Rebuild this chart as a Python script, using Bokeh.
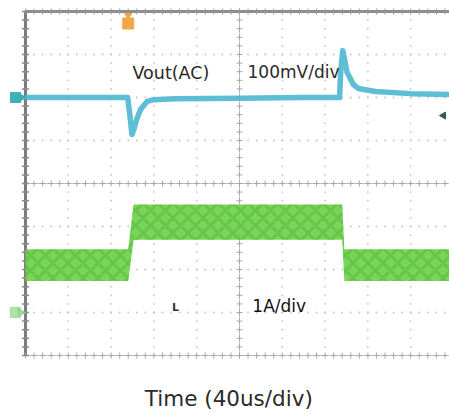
import numpy as np
from bokeh.plotting import figure
from bokeh.models import Range1d
from bokeh.core.properties import value
from bokeh.embed import file_html
from bokeh.resources import INLINE

# ---------------- data (read from the scope shot) ----------------
# Output voltage, AC coupled (time in us, deviation in mV)
vout_t_us = [0, 95.5, 97.5, 99.5, 101.5, 104, 107.5, 113.7, 120, 140, 200, 260,
             293.5, 294.6, 296.5, 300.6, 306.5, 311, 327, 360, 396]
vout_mv = [0, 0, -40, -86, -72, -50, -28, -9, -5, -3, -2, 0,
           0, 60, 109, 58, 30, 21, 14, 9, 7]
# Inductor current (centre of ripple band, A) and ripple peak-to-peak (A)
il_t_us = [0, 96, 101, 296, 298, 400]
il_a = [1.1, 1.1, 2.1, 2.1, 1.1, 1.1]
il_ripple_pp = [0.74, 0.74, 0.82, 0.82, 0.74, 0.74]

# scope settings
US_PER_DIV = 40.0
MV_PER_DIV = 100.0
A_PER_DIV = 1.0
VOUT_OFFSET_DIV = 2.0
IL_OFFSET_DIV = -3.0
TRIGGER_US = 96.0
TRIG_LEVEL_DIV = 1.58

labels = ["Vout(AC)", "100mV/div", "1A/div", "Time (40us/div)"]

# ---------------- geometry ----------------
PX_X = 42.8 / US_PER_DIV   # px per us
PX_Y = 43.0                # px per div
W, H = 449, 416
GRID_LEFT_PX = 25          # frame px of t=0
GRID_MID_PX = 183          # frame px (from top) of y=0
x0 = -GRID_LEFT_PX / PX_X
x1 = (W - GRID_LEFT_PX) / PX_X
y1 = GRID_MID_PX / PX_Y
y0 = -(H - GRID_MID_PX) / PX_Y

p = figure(width=W, height=H, x_range=Range1d(x0, x1), y_range=Range1d(y0, y1),
           output_backend="svg", toolbar_location=None, min_border=0,
           x_axis_location=None, y_axis_location=None)
p.grid.visible = False
p.outline_line_color = None
p.background_fill_color = "white"
p.border_fill_color = "white"

NX, NY = 10, 4
xmaj = [i * US_PER_DIV for i in range(NX + 1)]
ymaj = list(range(-NY, NY + 1))
xmin = np.arange(0, NX * 5 + 1) * US_PER_DIV / 5
ymin = np.arange(-NY * 5, NY * 5 + 1) / 5.0

# interior dotted grid
dx, dy = [], []
for xv in xmaj[1:-1]:
    if xv == NX / 2 * US_PER_DIV:
        continue
    for yv in ymin:
        dx.append(xv); dy.append(yv)
for yv in ymaj[1:-1]:
    if yv == 0:
        continue
    for xv in xmin:
        dx.append(xv); dy.append(yv)
p.scatter(dx, dy, marker="circle", size=1.8, color="#c4c4c4", line_color=None)

# centre cross with ticks
cx = NX / 2 * US_PER_DIV
p.line([0, NX * US_PER_DIV], [0, 0], line_color="#c8c8c8", line_width=1)
p.line([cx, cx], [-NY, NY], line_color="#c8c8c8", line_width=1)
p.scatter(list(xmin), [0] * len(xmin), marker="cross", size=6, line_color="#a8a8a8", line_width=1)
p.scatter([cx] * len(ymin), list(ymin), marker="cross", size=6, line_color="#a8a8a8", line_width=1)

# border
p.line([0, NX * US_PER_DIV], [NY, NY], line_color="#8e8e8e", line_width=3)
p.line([0, 0], [-NY, NY], line_color="#7c7c7c", line_width=3)
p.line([0, NX * US_PER_DIV], [-NY, -NY], line_color="#c0c0c0", line_width=1)
p.scatter(list(xmin), [-NY] * len(xmin), marker="cross", size=6, line_color="#a8a8a8")
p.scatter(list(xmin), [NY] * len(xmin), marker="dash", size=6, angle=np.pi / 2, line_color="#9a9a9a")
p.scatter([0] * len(ymin), list(ymin), marker="dash", size=7, line_color="#8a8a8a", line_width=1.5)

# inductor current band
il_c = np.array(il_a) / A_PER_DIV + IL_OFFSET_DIV
half = np.array(il_ripple_pp) / 2 / A_PER_DIV
p.varea(x=il_t_us, y1=list(il_c - half), y2=list(il_c + half),
        fill_color="#72d24e", fill_alpha=0.95,
        hatch_pattern="diagonal_cross", hatch_color="#46b236", hatch_scale=15,
        hatch_weight=3, hatch_alpha=0.4)

# output voltage trace
vy = np.array(vout_mv) / MV_PER_DIV + VOUT_OFFSET_DIV
p.line(vout_t_us, list(vy), line_color="#4cb7d0", line_width=5.5, line_alpha=0.9,
       line_join="round")

# channel / trigger markers
mx = -10 / PX_X
p.scatter([mx], [VOUT_OFFSET_DIV], marker="square", size=10, color="#3fb0b8")
p.scatter([mx + 5 / PX_X], [VOUT_OFFSET_DIV], marker="triangle", angle=-np.pi / 2,
          size=10, color="#3fb0b8")
p.scatter([mx], [IL_OFFSET_DIV], marker="square", size=10, color="#8fd68a", alpha=0.7)
p.scatter([mx + 5 / PX_X], [IL_OFFSET_DIV], marker="triangle", angle=-np.pi / 2,
          size=9, color="#8fd68a", alpha=0.7)
p.scatter([TRIGGER_US], [NY - 12 / PX_Y], marker="square", size=11, color="#f2a64a")
p.scatter([TRIGGER_US], [NY - 4 / PX_Y], marker="inverted_triangle", size=7, color="#f2a64a")
p.scatter([(W - 6 - GRID_LEFT_PX) / PX_X], [TRIG_LEVEL_DIV], marker="triangle",
          angle=np.pi / 2, size=7, color="#3a5a50")

# texts
font = value("DejaVu Sans")
p.text([100], [2.58], text=[labels[0]], text_font=font, text_font_size="17.5px",
       text_color="#2a2a2a", text_baseline="middle", text_align="left")
p.text([207.5], [2.6], text=[labels[1]], text_font=font, text_font_size="17px",
       text_color="#2a2a2a", text_baseline="middle", text_align="left")
p.text([212], [-2.86], text=[labels[2]], text_font=font, text_font_size="17px",
       text_color="#111111", text_baseline="middle", text_align="left")
p.text([137], [-2.88], text=["L"], text_font=font, text_font_size="11px",
       text_color="#333333", text_baseline="middle", text_align="left", text_font_style="bold")
p.text([190], [-5.0], text=[labels[3]], text_font=font, text_font_size="21.5px",
       text_color="#2a2a2a", text_baseline="middle", text_align="center")

open("out.html", "w").write(file_html(p, INLINE))
